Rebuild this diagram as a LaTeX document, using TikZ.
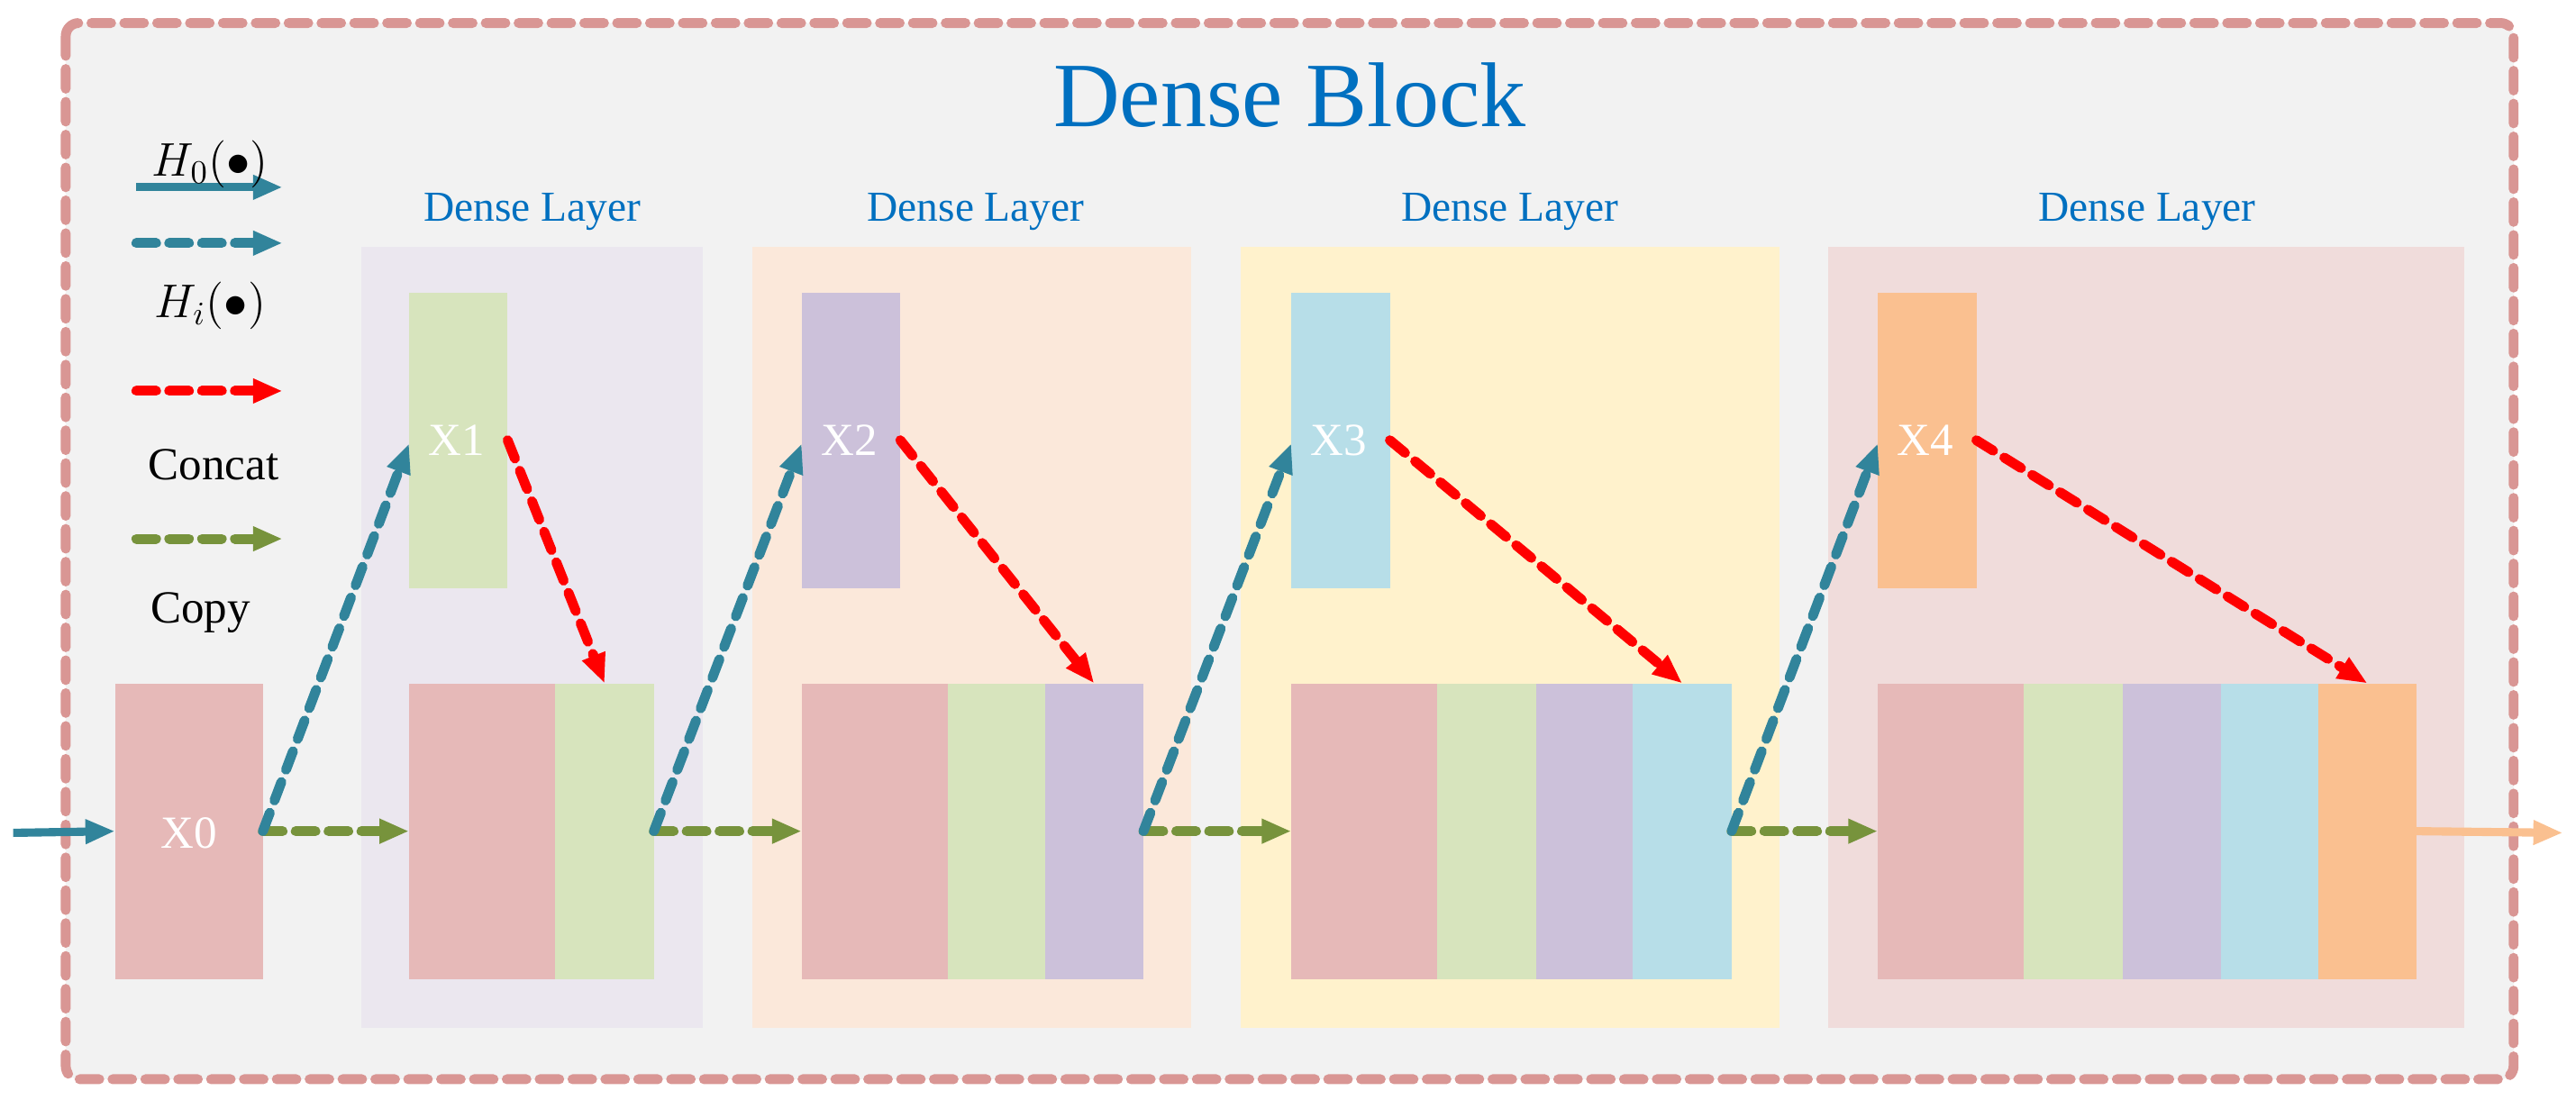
\documentclass[tikz,border=0pt]{standalone}
\usepackage{fontspec}
\setmainfont{Liberation Serif}
\usetikzlibrary{arrows.meta}
\definecolor{frame}{HTML}{D99694}
\definecolor{bg}{HTML}{F2F2F2}
\definecolor{tblue}{HTML}{0070C0}
\definecolor{teal}{HTML}{31849B}
\definecolor{cgreen}{HTML}{77933C}
\definecolor{cred}{HTML}{FF0000}
\definecolor{pinkb}{HTML}{E6B9B8}
\definecolor{greenb}{HTML}{D7E4BD}
\definecolor{purpb}{HTML}{CCC1DA}
\definecolor{blueb}{HTML}{B7DEE8}
\definecolor{orab}{HTML}{FAC090}
\definecolor{l1}{HTML}{EBE7EF}
\definecolor{l2}{HTML}{FBE8DA}
\definecolor{l3}{HTML}{FFF2CC}
\definecolor{l4}{HTML}{F0DCDB}
\begin{document}
\begin{tikzpicture}[x=0.5pt,y=-0.5pt,
  box/.style={rectangle,inner sep=0pt,outer sep=0pt,anchor=north west,draw=none},
  lab/.style={text=white,font=\fontsize{14}{14}\selectfont},
  ltitle/.style={text=tblue,font=\fontsize{13}{13}\selectfont},
  leg/.style={font=\fontsize{14}{14}\selectfont},
  tip/.style={-{Triangle[length=9pt,width=7pt]}},
  solidar/.style={tip,line width=2.5pt,teal},
  hdash/.style={tip,line width=3pt,teal,dash pattern=on 6pt off 4pt,line cap=round},
  rdash/.style={tip,line width=3pt,cred,dash pattern=on 6pt off 4pt,line cap=round},
  gdash/.style={tip,line width=3pt,cgreen,dash pattern=on 6pt off 4pt,line cap=round}]
\useasboundingbox (0,0) rectangle (1568,675);
\draw[frame,fill=bg,line width=3pt,dash pattern=on 6pt off 4pt,line cap=round,rounded corners=4pt] (40,14) rectangle (1530,657);
\node[text=tblue,font=\fontsize{28}{28}\selectfont] (title) at (785,58) {Dense Block};
% legend
\coordinate (a1) at (83,114); \coordinate (a2) at (172,114);
\draw[solidar] (a1) -- (a2);
\node[leg] (h0) at (128,100) {$H_0(\bullet)$};
\coordinate (b1) at (83,148); \coordinate (b2) at (172,148);
\draw[hdash] (b1) -- (b2);
\node[leg] (hi) at (128,186) {$H_i(\bullet)$};
\coordinate (c1) at (83,238); \coordinate (c2) at (172,238);
\draw[rdash] (c1) -- (c2);
\node[leg] (concat) at (130,283) {Concat};
\coordinate (d1) at (83,328); \coordinate (d2) at (172,328);
\draw[gdash] (d1) -- (d2);
\node[leg] (copy) at (122,373) {Copy};
% layer backgrounds
\fill[l1] (220,150) rectangle (428,626);
\fill[l2] (458,150) rectangle (725,626);
\fill[l3] (755,150) rectangle (1083,626);
\fill[l4] (1113,150) rectangle (1500,626);
\node[ltitle] (t1) at (324,129) {Dense Layer};
\node[ltitle] (t2) at (594,129) {Dense Layer};
\node[ltitle] (t3) at (919,129) {Dense Layer};
\node[ltitle] (t4) at (1307,129) {Dense Layer};
% top boxes
\node[box,fill=greenb,minimum width=30pt,minimum height=90pt] (x1) at (249,178) {};
\node[box,fill=purpb,minimum width=30pt,minimum height=90pt] (x2) at (488,178) {};
\node[box,fill=blueb,minimum width=30pt,minimum height=90pt] (x3) at (786,178) {};
\node[box,fill=orab,minimum width=30pt,minimum height=90pt] (x4) at (1143,178) {};
\node[lab] at (278,268) {X1};
\node[lab] at (517,268) {X2};
\node[lab] at (815,268) {X3};
\node[lab] at (1172,268) {X4};
% bottom
\node[box,fill=pinkb,minimum width=45pt,minimum height=90pt] (x0) at (70,416) {};
\node[lab] at (115,507) {X0};
% layer 1
\node[box,fill=pinkb,minimum width=44.5pt,minimum height=90pt] (p1) at (249,416) {};
\node[box,fill=greenb,minimum width=30pt,minimum height=90pt] (e1) at (338,416) {};
% layer 2
\node[box,fill=pinkb,minimum width=44.5pt,minimum height=90pt] (p2) at (488,416) {};
\node[box,fill=greenb,minimum width=29.5pt,minimum height=90pt] (g2) at (577,416) {};
\node[box,fill=purpb,minimum width=30pt,minimum height=90pt] (e2) at (636,416) {};
% layer 3
\node[box,fill=pinkb,minimum width=44.5pt,minimum height=90pt] (p3) at (786,416) {};
\node[box,fill=greenb,minimum width=30pt,minimum height=90pt] (g3) at (875,416) {};
\node[box,fill=purpb,minimum width=29.5pt,minimum height=90pt] (u3) at (935,416) {};
\node[box,fill=blueb,minimum width=30pt,minimum height=90pt] (e3) at (994,416) {};
% layer 4
\node[box,fill=pinkb,minimum width=44.5pt,minimum height=90pt] (p4) at (1143,416) {};
\node[box,fill=greenb,minimum width=30pt,minimum height=90pt] (g4) at (1232,416) {};
\node[box,fill=purpb,minimum width=30pt,minimum height=90pt] (u4) at (1292,416) {};
\node[box,fill=blueb,minimum width=29.5pt,minimum height=90pt] (b4) at (1352,416) {};
\node[box,fill=orab,minimum width=30pt,minimum height=90pt] (e4) at (1411,416) {};
% in / out
\coordinate (in) at (8,507); \coordinate (out) at (1560,507);
\draw[solidar] (in) -- (x0.west);
\draw[tip,line width=2.5pt,orab] (e4.east) -- (out);
% copy arrows
\draw[gdash] (x0.east) -- (p1.west);
\draw[gdash] (e1.east) -- (p2.west);
\draw[gdash] (e2.east) -- (p3.west);
\draw[gdash] (e3.east) -- (p4.west);
% H arrows
\draw[hdash] (x0.east) -- ([yshift=-1pt]x1.west);
\draw[hdash] (e1.east) -- ([yshift=-1pt]x2.west);
\draw[hdash] (e2.east) -- ([yshift=-1pt]x3.west);
\draw[hdash] (e3.east) -- ([yshift=-1pt]x4.west);
% concat arrows
\draw[rdash] (x1.east) -- (e1.north);
\draw[rdash] (x2.east) -- (e2.north);
\draw[rdash] (x3.east) -- (e3.north);
\draw[rdash] (x4.east) -- (e4.north);
\end{tikzpicture}
\end{document}
